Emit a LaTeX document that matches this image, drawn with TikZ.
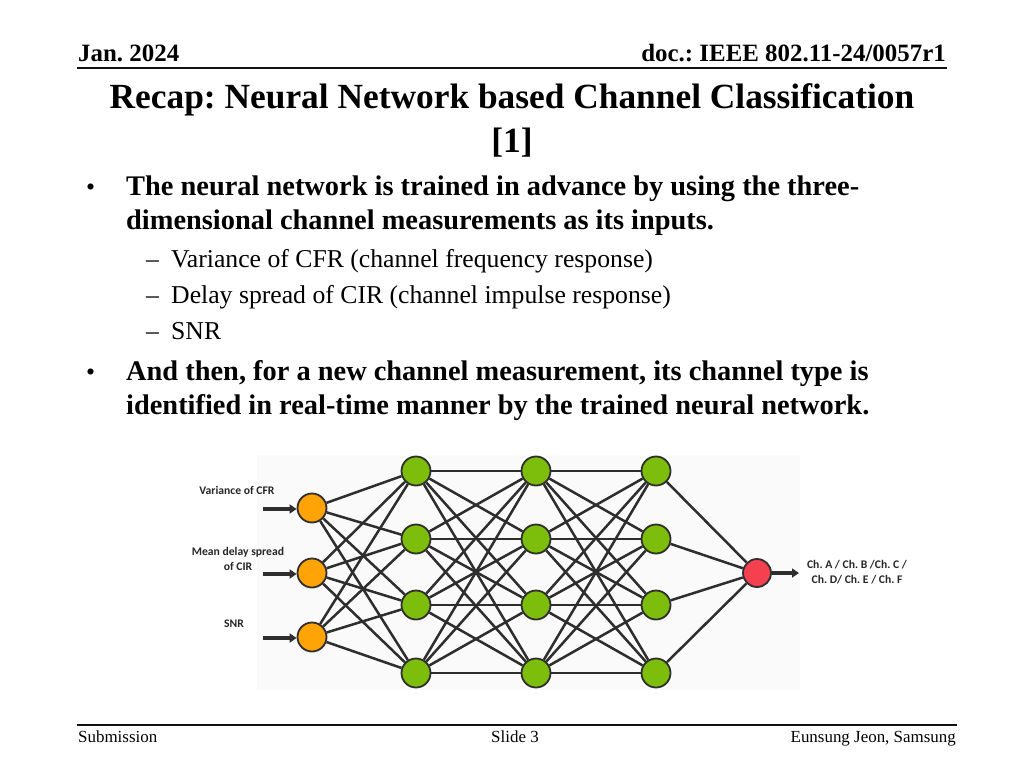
\documentclass[tikz,border=0pt]{standalone}
\usepackage{fontspec}
\setmainfont{Liberation Serif}
\newfontfamily\labelfont{Carlito}
\usetikzlibrary{arrows.meta}
\usetikzlibrary{backgrounds}
\frenchspacing
\definecolor{inputColor}{HTML}{FFA306}
\definecolor{hiddenColor}{HTML}{7DBE0C}
\definecolor{outputColor}{HTML}{F5404F}
\definecolor{linkColor}{HTML}{2E2E2E}
\definecolor{ruleColor}{HTML}{111111}
\definecolor{panelColor}{HTML}{FAFAFA}
\def\textDate{Jan. 2024}
\def\textDoc{doc.: IEEE 802.11-24/0057r1}
\def\textOut{Ch. A / Ch. B /Ch. C /}
\def\textOutB{Ch. D/ Ch. E / Ch. F}

\begin{document}
\begin{tikzpicture}[x=1bp,y=-1bp,
  neuron/.style={circle, draw=linkColor, line width=1.8bp, minimum size=29bp, inner sep=0pt},
  link/.style={draw=linkColor, line width=2.5bp},
  feed/.style={draw=linkColor, line width=3.2bp, -{Triangle[length=7bp,width=9bp]}},
  netlabel/.style={font=\labelfont\bfseries\fontsize{11.7}{14.5}\selectfont, align=center, text=black!85},
  headtext/.style={font=\bfseries\fontsize{25}{28}\selectfont, inner sep=0pt},
  foottext/.style={font=\fontsize{17}{20}\selectfont, inner sep=0pt},
  bodytext/.style={font=\bfseries\fontsize{28.5}{34}\selectfont, inner sep=0pt, anchor=base west},
  subtext/.style={font=\fontsize{25.8}{36}\selectfont, inner sep=0pt, anchor=base west}]
\useasboundingbox (0,0) rectangle (1024,768);

% header
\begin{scope}
\node[headtext, anchor=base west] (date) at (78, 62) {\textDate};
\node[headtext, anchor=base east] (doc) at (946, 62) {\textDoc};
\draw[ruleColor, line width=1.8bp] (77, 68) -- (947, 68);
\end{scope}

% title
\begin{scope}
\node[font=\bfseries\fontsize{35.5}{44}\selectfont, anchor=base] (title) at (512, 108)
  {Recap: Neural Network based Channel Classification};
\node[font=\bfseries\fontsize{35.5}{44}\selectfont, anchor=base] (ref) at (512, 152) {[1]};
\end{scope}

% bullets
\begin{scope}
\node[subtext] (dotA) at (86, 195) {•};
\node[bodytext] (bulA) at (126, 195) {The neural network is trained in advance by using the three-};
\node[bodytext] (bulAb) at (126, 229) {dimensional channel measurements as its inputs.};
\node[subtext] (dashA) at (146, 267) {–};
\node[subtext] (subA) at (171, 267) {Variance of CFR (channel frequency response)};
\node[subtext] (dashB) at (146, 303) {–};
\node[subtext] (subB) at (171, 303) {Delay spread of CIR (channel impulse response)};
\node[subtext] (dashC) at (146, 339) {–};
\node[subtext] (subC) at (171, 339) {SNR};
\node[subtext] (dotB) at (86, 380) {•};
\node[bodytext] (bulB) at (126, 380) {And then, for a new channel measurement, its channel type is};
\node[bodytext] (bulBb) at (126, 414) {identified in real-time manner by the trained neural network.};
\end{scope}

% neurons
\begin{scope}
\foreach \y [count=\i] in {508, 573, 637}
  \node[neuron, fill=inputColor] (in\i) at (312, \y) {};
\foreach \y [count=\i] in {471, 539, 605, 673} {
  \node[neuron, fill=hiddenColor] (ha\i) at (416, \y) {};
  \node[neuron, fill=hiddenColor] (hb\i) at (536, \y) {};
  \node[neuron, fill=hiddenColor] (hc\i) at (656, \y) {};
}
\node[neuron, fill=outputColor, minimum size=28bp] (out) at (757, 573) {};
\end{scope}

% link layer
\begin{pgfonlayer}{background}
\fill[panelColor] (257, 455) rectangle (800, 690);
\foreach \i in {1,2,3}
  \foreach \j in {1,...,4}
    \draw[link] (in\i) -- (ha\j);
\foreach \i in {1,...,4}
  \foreach \j in {1,...,4} {
    \draw[link] (ha\i) -- (hb\j);
    \draw[link] (hb\i) -- (hc\j);
  }
\foreach \i in {1,...,4}
  \draw[link] (hc\i) -- (out);
\end{pgfonlayer}

% inputs and output
\begin{scope}
\node[netlabel] (varCFR) at (237, 490) {Variance of CFR};
\node[netlabel] (delayCIR) at (238, 559) {Mean delay spread\\of CIR};
\node[netlabel] (snr) at (234, 624) {SNR};
\foreach \i/\y in {1/509, 2/574, 3/638} {
  \coordinate (src\i) at (263, \y);
  \draw[feed] (src\i) -- (in\i.west |- src\i);
}
\coordinate (sink) at (799, 573);
\draw[feed] (out) -- (sink);
\node[netlabel] (chType) at (857, 572) {\textOut\\\textOutB};
\end{scope}

% footer
\begin{scope}
\draw[ruleColor, line width=1.8bp] (77, 725) -- (957, 725);
\node[foottext, anchor=base west] (sub) at (78, 742) {Submission};
\node[foottext, anchor=base] (slide) at (515, 742) {Slide 3};
\node[foottext, anchor=base east] (author) at (956, 742) {Eunsung Jeon, Samsung};
\end{scope}
\end{tikzpicture}
\end{document}
